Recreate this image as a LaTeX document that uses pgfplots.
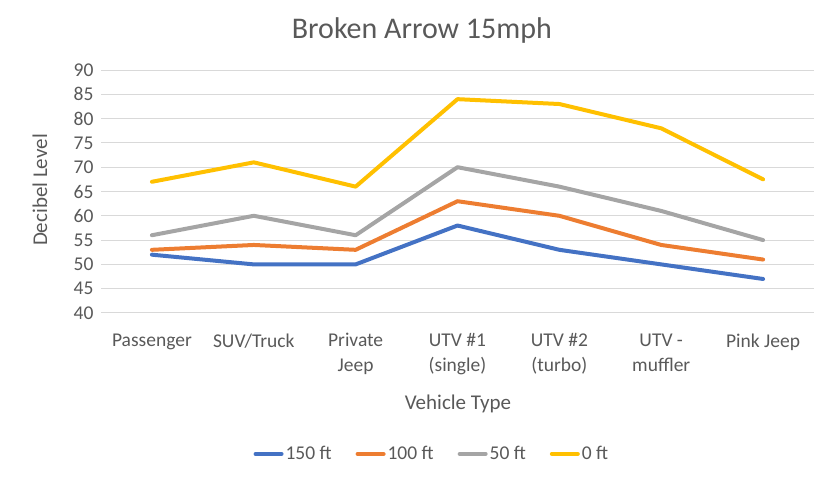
\documentclass[border=0pt]{standalone}
\usepackage{fontspec}
\setmainfont{Carlito}
\usepackage{pgfplots}
\pgfplotsset{compat=1.18}
\definecolor{cblue}{HTML}{4472C4}
\definecolor{corange}{HTML}{ED7D31}
\definecolor{cgray}{HTML}{A5A5A5}
\definecolor{cgold}{HTML}{FFC000}
\definecolor{txt}{HTML}{595959}
\definecolor{grd}{HTML}{D9D9D9}
\begin{document}
\begin{tikzpicture}
\path[use as bounding box] (0,0) rectangle (823bp,482bp);
\begin{axis}[
  at={(101bp,169bp)}, anchor=south west,
  scale only axis, width=713bp, height=243bp,
  xmin=-0.5, xmax=6.5, ymin=40, ymax=90,
  ytick={40,45,...,90},
  xtick={0,...,6},
  xticklabels={Passenger,SUV/Truck,{Private\\Jeep},{UTV \#1\\(single)},{UTV \#2\\(turbo)},{UTV -\\muffler},Pink Jeep},
  axis line style={draw=none},
  major tick length=0,
  ymajorgrids, grid style={grd, line width=1bp},
  /pgf/number format/assume math mode=true,
  tick label style={font=\fontsize{19.5bp}{25bp}\selectfont, text=txt},
  xticklabel style={align=center, anchor=north, yshift=-17bp},
  yticklabel style={anchor=east, xshift=-4bp},
  title={Broken Arrow 15mph},
  title style={at={(0.45,1.14)}, anchor=center, font=\fontsize{30bp}{34bp}\selectfont, text=txt},
  xlabel={Vehicle Type},
  ylabel={Decibel Level},
  every axis x label/.style={at={(axis description cs:0.5007,-0.374)}, anchor=center, font=\fontsize{21bp}{25bp}\selectfont, text=txt},
  every axis y label/.style={at={(axis description cs:-0.0856,0.506)}, rotate=90, anchor=center, font=\fontsize{21bp}{25bp}\selectfont, text=txt},
  legend columns=4,
  legend style={at={(0.464,-0.58)}, anchor=center, draw=none, fill=none,
    font=\fontsize{19.5bp}{23bp}\selectfont, text=txt,
    /tikz/every even column/.append style={column sep=22bp}},
  legend image code/.code={\draw[#1, line width=4bp] (0bp,0bp) -- (26bp,0bp);},
  every axis plot/.append style={line width=4bp, line join=round, line cap=round, mark=none},
]
\addplot[cblue] coordinates {(0,52) (1,50) (2,50) (3,58) (4,53) (5,50) (6,47)};
\addlegendentry{150 ft}
\addplot[corange] coordinates {(0,53) (1,54) (2,53) (3,63) (4,60) (5,54) (6,51)};
\addlegendentry{100 ft}
\addplot[cgray] coordinates {(0,56) (1,60) (2,56) (3,70) (4,66) (5,61) (6,55)};
\addlegendentry{50 ft}
\addplot[cgold] coordinates {(0,67) (1,71) (2,66) (3,84) (4,83) (5,78) (6,67.5)};
\addlegendentry{0 ft}
\end{axis}
\end{tikzpicture}
\end{document}
